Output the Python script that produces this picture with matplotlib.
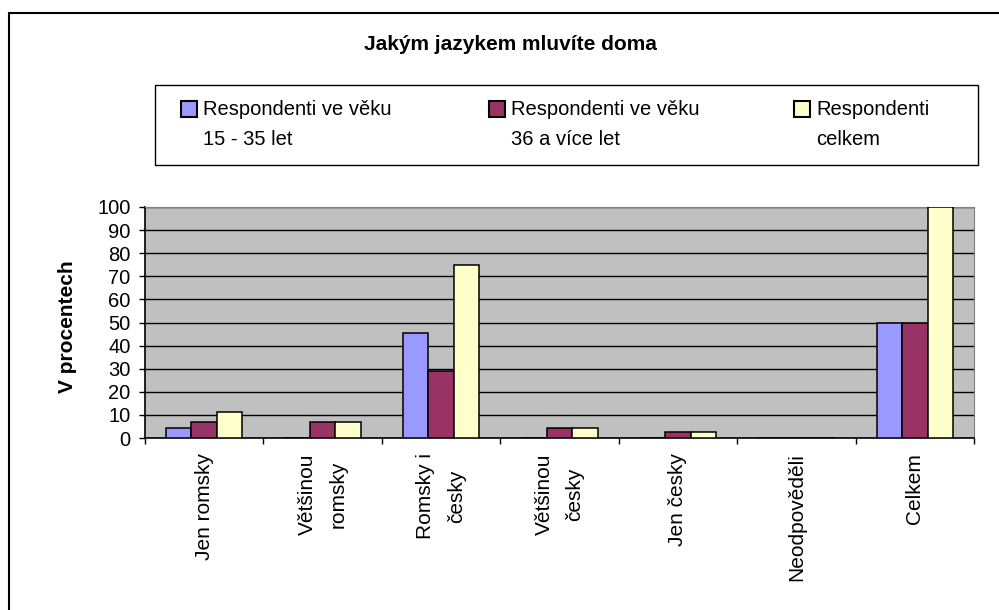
import numpy as np
import matplotlib.pyplot as plt
from matplotlib.patches import Rectangle

plt.rcParams['font.family'] = ['Liberation Sans', 'DejaVu Sans']

# Data
kategorie = ["Jen romsky", "Většinou\nromsky", "Romsky i\nčesky", "Většinou\nčesky",
             "Jen česky", "Neodpověděli", "Celkem"]
mladi = [4.3, 0, 45.5, 0, 0, 0, 50]
starsi = [7.0, 7.0, 29.0, 4.3, 2.7, 0, 50]
celkem = [11.3, 7.0, 75.0, 4.3, 2.7, 0, 100]
serie = ["Respondenti ve věku\n15 - 35 let", "Respondenti ve věku\n36 a více let",
         "Respondenti\ncelkem"]
barvy = ["#9999FF", "#993366", "#FFFFCC"]
y_ticks = list(range(0, 101, 10))

W, H = 999, 610
fig = plt.figure(figsize=(W / 100, H / 100), dpi=100)

def fx(px):
    return px / W

def fy(py):
    return 1 - py / H

# outer chart frame (runs off the bottom/right edge)
fig.patches.append(Rectangle((fx(9), fy(640)), fx(1050), fy(13) - fy(640),
                             transform=fig.transFigure, fill=False,
                             edgecolor='black', linewidth=1.5, clip_on=False))

ax = fig.add_axes([fx(145), fy(438), fx(974) - fx(145), fy(207) - fy(438)])
ax.set_facecolor('#C0C0C0')

x = np.arange(len(kategorie))
w = 0.215
for i, (vals, c) in enumerate(zip([mladi, starsi, celkem], barvy)):
    ax.bar(x + (i - 1) * w, vals, w, color=c, edgecolor='black', linewidth=1.1, zorder=3)

ax.set_xlim(-0.5, len(kategorie) - 0.5)
ax.set_ylim(0, 100)
ax.set_yticks(y_ticks)
ax.set_yticklabels([str(t) for t in y_ticks], fontsize=14.5)
ax.yaxis.grid(True, color='black', linewidth=1.0, zorder=1)
ax.set_axisbelow(True)

ax.set_xticks(x)
ax.set_xticklabels(kategorie, rotation=90, fontsize=15, va='top', ha='center',
                   multialignment='center', linespacing=1.75)
ax.tick_params(axis='x', length=0, pad=11)
ax.set_xticks(np.arange(len(kategorie) + 1) - 0.5, minor=True)
ax.tick_params(axis='x', which='minor', length=4, width=1, direction='out')
ax.tick_params(axis='y', length=4, width=1, direction='out', pad=6.5)

for s in ['top', 'right']:
    ax.spines[s].set_color('#808080')
for s in ['left', 'bottom']:
    ax.spines[s].set_color('black')
    ax.spines[s].set_linewidth(1.2)

ax.set_ylabel('V procentech', fontsize=15, fontweight='bold')
ax.yaxis.set_label_coords(0, 0.5)
ax.yaxis.label.set_transform(fig.transFigure)
ax.yaxis.label.set_position((fx(77), fy(327)))

fig.text(fx(510), fy(44), 'Jakým jazykem mluvíte doma', fontsize=15,
         fontweight='bold', ha='center', va='center')

# legend
fig.patches.append(Rectangle((fx(155), fy(165)), fx(978) - fx(155), fy(85) - fy(165),
                             transform=fig.transFigure, facecolor='white',
                             edgecolor='black', linewidth=1.0))
leg_x = [181, 489, 794]
for lx, nazev, c in zip(leg_x, serie, barvy):
    fig.patches.append(Rectangle((fx(lx), fy(117)), fx(16), fy(101) - fy(117),
                                 transform=fig.transFigure, facecolor=c,
                                 edgecolor='black', linewidth=1.5))
    radky = nazev.split('\n')
    fig.text(fx(lx + 22), fy(115), radky[0], fontsize=14.5, va='baseline', ha='left')
    fig.text(fx(lx + 22), fy(145), radky[1], fontsize=14.5, va='baseline', ha='left')

fig.savefig('out.png', dpi=100)
